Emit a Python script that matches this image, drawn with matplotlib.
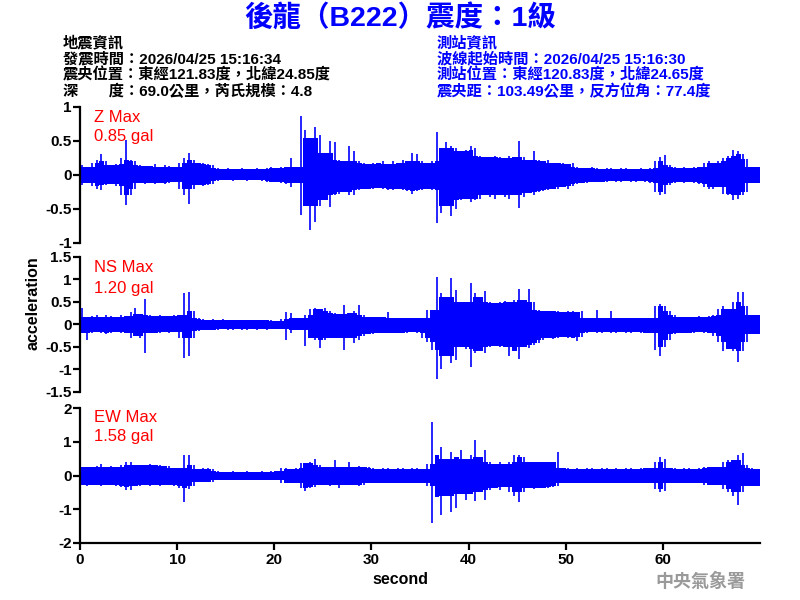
import numpy as np
import matplotlib
matplotlib.use('Agg')
from matplotlib import pyplot as plt

plt.rcParams['font.family'] = ['Liberation Sans', 'Noto Sans CJK TC', 'DejaVu Sans']

# station / event text
title = '後龍（B222）震度：1級'
quake_info = ['地震資訊',
              '發震時間：2026/04/25 15:16:34',
              '震央位置：東經121.83度，北緯24.85度',
              '深\u3000\u3000度：69.0公里，芮氏規模：4.8']
station_info = ['測站資訊',
                '波線起始時間：2026/04/25 15:16:30',
                '測站位置：東經120.83度，北緯24.65度',
                '震央距：103.49公里，反方位角：77.4度']

channels = ['Z', 'NS', 'EW']
max_labels = ['0.85 gal', '1.20 gal', '1.58 gal']
y_limits = [(-1, 1), (-1.5, 1.5), (-2, 2)]
y_ticks = [[-1, -0.5, 0, 0.5, 1],
           [-1.5, -1, -0.5, 0, 0.5, 1, 1.5],
           [-2, -1, 0, 1, 2]]
y_ticklabels = [['-1', '-0.5', '0', '0.5', '1'],
                ['-1.5', '-1', '-0.5', '0', '0.5', '1', '1.5'],
                ['-2', '-1', '0', '1', '2']]
x_ticks = [0, 10, 20, 30, 40, 50, 60]

# trace extremes per 0.5 s window (gal); one line = 5 s
z_hi = [0.15, 0.12, 0.18, 0.22, 0.30, 0.20, 0.15, 0.16, 0.25, 0.51,
        0.22, 0.20, 0.14, 0.13, 0.13, 0.16, 0.12, 0.14, 0.13, 0.12,
        0.18, 0.25, 0.32, 0.22, 0.17, 0.18, 0.16, 0.15, 0.10, 0.09,
        0.10, 0.08, 0.09, 0.10, 0.08, 0.09, 0.10, 0.08, 0.10, 0.12,
        0.10, 0.11, 0.12, 0.25, 0.12, 0.86, 0.66, 0.54, 0.71, 0.59,
        0.32, 0.50, 0.48, 0.22, 0.20, 0.43, 0.35, 0.20, 0.17, 0.16,
        0.18, 0.17, 0.20, 0.16, 0.20, 0.18, 0.22, 0.20, 0.32, 0.30,
        0.20, 0.18, 0.20, 0.63, 0.39, 0.48, 0.42, 0.40, 0.35, 0.36,
        0.42, 0.40, 0.28, 0.27, 0.26, 0.28, 0.27, 0.25, 0.28, 0.27,
        0.50, 0.27, 0.22, 0.35, 0.22, 0.20, 0.22, 0.17, 0.18, 0.17,
        0.16, 0.18, 0.12, 0.10, 0.10, 0.12, 0.10, 0.09, 0.10, 0.10,
        0.09, 0.10, 0.10, 0.08, 0.09, 0.10, 0.08, 0.10, 0.20, 0.27,
        0.29, 0.15, 0.12, 0.10, 0.12, 0.10, 0.11, 0.12, 0.18, 0.20,
        0.18, 0.20, 0.25, 0.28, 0.37, 0.35, 0.30, 0.24, 0.12, 0.12]
z_lo = [-0.15, -0.12, -0.17, -0.20, -0.22, -0.15, -0.14, -0.16, -0.30, -0.44,
        -0.30, -0.20, -0.12, -0.13, -0.12, -0.14, -0.12, -0.13, -0.12, -0.11,
        -0.20, -0.30, -0.42, -0.20, -0.15, -0.16, -0.15, -0.13, -0.09, -0.08,
        -0.08, -0.09, -0.08, -0.08, -0.09, -0.08, -0.08, -0.09, -0.10, -0.10,
        -0.10, -0.12, -0.13, -0.18, -0.12, -0.59, -0.45, -0.81, -0.69, -0.45,
        -0.37, -0.47, -0.30, -0.28, -0.25, -0.30, -0.30, -0.22, -0.20, -0.20,
        -0.20, -0.19, -0.20, -0.22, -0.22, -0.20, -0.22, -0.24, -0.28, -0.24,
        -0.22, -0.20, -0.22, -0.71, -0.56, -0.45, -0.61, -0.50, -0.37, -0.35,
        -0.40, -0.37, -0.35, -0.30, -0.32, -0.35, -0.30, -0.33, -0.35, -0.30,
        -0.49, -0.32, -0.27, -0.30, -0.25, -0.24, -0.22, -0.20, -0.20, -0.18,
        -0.20, -0.17, -0.14, -0.12, -0.12, -0.10, -0.10, -0.11, -0.10, -0.09,
        -0.10, -0.10, -0.09, -0.10, -0.10, -0.09, -0.10, -0.12, -0.25, -0.30,
        -0.28, -0.15, -0.12, -0.11, -0.12, -0.10, -0.12, -0.13, -0.18, -0.20,
        -0.20, -0.18, -0.28, -0.30, -0.37, -0.35, -0.30, -0.25, -0.12, -0.12]

ns_hi = [0.36, 0.17, 0.18, 0.20, 0.17, 0.20, 0.18, 0.17, 0.20, 0.18,
         0.28, 0.36, 0.22, 0.56, 0.20, 0.18, 0.20, 0.19, 0.18, 0.20,
         0.20, 0.69, 0.72, 0.30, 0.15, 0.12, 0.10, 0.12, 0.10, 0.11,
         0.10, 0.09, 0.10, 0.10, 0.09, 0.10, 0.10, 0.09, 0.10, 0.10,
         0.08, 0.12, 0.28, 0.25, 0.14, 0.15, 0.20, 0.34, 0.36, 0.34,
         0.36, 0.30, 0.25, 0.22, 0.43, 0.25, 0.29, 0.42, 0.20, 0.17,
         0.17, 0.16, 0.17, 0.28, 0.14, 0.15, 0.14, 0.15, 0.14, 0.13,
         0.15, 0.32, 0.32, 1.05, 0.69, 0.60, 1.03, 0.77, 0.50, 0.50,
         0.91, 0.69, 0.60, 0.73, 0.50, 0.48, 0.50, 0.52, 0.50, 0.55,
         0.78, 0.55, 0.78, 0.50, 0.32, 0.30, 0.30, 0.29, 0.29, 0.28,
         0.29, 0.30, 0.28, 0.29, 0.15, 0.14, 0.32, 0.14, 0.15, 0.30,
         0.14, 0.15, 0.14, 0.13, 0.14, 0.15, 0.14, 0.15, 0.40, 0.45,
         0.40, 0.30, 0.20, 0.17, 0.17, 0.16, 0.17, 0.18, 0.17, 0.18,
         0.20, 0.35, 0.40, 0.35, 0.50, 0.71, 0.71, 0.40, 0.20, 0.20]
ns_lo = [-0.20, -0.34, -0.20, -0.18, -0.20, -0.22, -0.20, -0.18, -0.20, -0.20,
         -0.30, -0.25, -0.30, -0.63, -0.20, -0.20, -0.20, -0.18, -0.20, -0.18,
         -0.30, -0.75, -0.70, -0.30, -0.15, -0.13, -0.12, -0.12, -0.12, -0.11,
         -0.12, -0.12, -0.11, -0.12, -0.12, -0.11, -0.12, -0.11, -0.12, -0.10,
         -0.10, -0.10, -0.34, -0.20, -0.13, -0.13, -0.49, -0.30, -0.35, -0.53,
         -0.35, -0.30, -0.30, -0.30, -0.57, -0.30, -0.42, -0.35, -0.25, -0.22,
         -0.22, -0.20, -0.20, -0.20, -0.20, -0.20, -0.20, -0.20, -0.18, -0.20,
         -0.30, -0.40, -0.57, -1.22, -1.00, -0.70, -0.86, -0.80, -0.50, -0.55,
         -0.95, -0.64, -0.60, -0.64, -0.50, -0.48, -0.50, -0.50, -0.71, -0.60,
         -0.77, -0.50, -0.53, -0.45, -0.42, -0.35, -0.30, -0.32, -0.30, -0.28,
         -0.30, -0.30, -0.38, -0.28, -0.20, -0.18, -0.20, -0.20, -0.18, -0.20,
         -0.20, -0.18, -0.20, -0.20, -0.18, -0.20, -0.20, -0.20, -0.57, -0.71,
         -0.50, -0.35, -0.22, -0.20, -0.20, -0.20, -0.20, -0.18, -0.20, -0.20,
         -0.25, -0.40, -0.60, -0.55, -0.60, -0.83, -0.60, -0.40, -0.22, -0.22]

ew_hi = [0.26, 0.25, 0.26, 0.28, 0.33, 0.26, 0.28, 0.26, 0.30, 0.41,
         0.41, 0.30, 0.30, 0.31, 0.33, 0.30, 0.30, 0.28, 0.28, 0.22,
         0.22, 0.61, 0.61, 0.30, 0.20, 0.22, 0.21, 0.20, 0.12, 0.11,
         0.11, 0.12, 0.11, 0.10, 0.12, 0.11, 0.11, 0.12, 0.11, 0.12,
         0.12, 0.21, 0.21, 0.20, 0.21, 0.36, 0.36, 0.40, 0.50, 0.30,
         0.26, 0.26, 0.45, 0.26, 0.26, 0.40, 0.26, 0.28, 0.26, 0.25,
         0.21, 0.20, 0.21, 0.22, 0.20, 0.21, 0.21, 0.20, 0.21, 0.22,
         0.20, 0.35, 1.58, 0.62, 0.85, 0.48, 0.70, 0.55, 0.75, 0.50,
         0.60, 1.05, 0.55, 0.75, 0.41, 0.35, 0.40, 0.33, 0.41, 0.61,
         0.61, 0.55, 0.41, 0.40, 0.41, 0.40, 0.40, 0.41, 0.71, 0.21,
         0.21, 0.20, 0.21, 0.20, 0.21, 0.21, 0.20, 0.21, 0.21, 0.20,
         0.21, 0.20, 0.21, 0.21, 0.20, 0.21, 0.21, 0.21, 0.40, 0.56,
         0.50, 0.21, 0.21, 0.20, 0.21, 0.21, 0.20, 0.21, 0.26, 0.26,
         0.26, 0.26, 0.40, 0.45, 0.45, 0.60, 0.66, 0.30, 0.21, 0.20]
ew_lo = [-0.28, -0.30, -0.27, -0.28, -0.30, -0.27, -0.28, -0.30, -0.35, -0.43,
         -0.43, -0.30, -0.30, -0.28, -0.30, -0.29, -0.30, -0.28, -0.28, -0.30,
         -0.38, -0.78, -0.40, -0.30, -0.20, -0.18, -0.19, -0.18, -0.13, -0.13,
         -0.13, -0.12, -0.13, -0.13, -0.12, -0.13, -0.13, -0.12, -0.13, -0.13,
         -0.13, -0.23, -0.23, -0.22, -0.23, -0.38, -0.45, -0.38, -0.35, -0.28,
         -0.28, -0.30, -0.28, -0.38, -0.28, -0.27, -0.28, -0.30, -0.27, -0.22,
         -0.21, -0.22, -0.23, -0.21, -0.22, -0.23, -0.21, -0.22, -0.23, -0.21,
         -0.22, -0.30, -1.40, -0.65, -1.17, -0.60, -1.07, -0.95, -0.55, -0.73,
         -0.55, -0.75, -0.50, -0.73, -0.43, -0.38, -0.43, -0.35, -0.50, -0.60,
         -0.78, -0.50, -0.38, -0.40, -0.38, -0.38, -0.38, -0.35, -0.30, -0.23,
         -0.23, -0.22, -0.23, -0.23, -0.22, -0.23, -0.23, -0.22, -0.23, -0.23,
         -0.22, -0.23, -0.23, -0.22, -0.23, -0.23, -0.22, -0.23, -0.40, -0.48,
         -0.45, -0.23, -0.22, -0.22, -0.21, -0.22, -0.22, -0.22, -0.28, -0.28,
         -0.28, -0.28, -0.40, -0.50, -0.60, -0.87, -0.50, -0.30, -0.30, -0.30]

traces = [(z_hi, z_lo), (ns_hi, ns_lo), (ew_hi, ew_lo)]
window = 0.5
blue = '#0000ff'

fig = plt.figure(figsize=(8, 6), dpi=100)

# axes rectangles in figure fractions (left, bottom, width, height)
ax_boxes = [[0.1, 0.595, 0.85, 0.227],
            [0.1, 0.347, 0.85, 0.225],
            [0.1, 0.095, 0.85, 0.225]]
label_y = [(118, 137), (268, 288), (417, 437)]

for i in range(3):
    ax = fig.add_axes(ax_boxes[i])
    hi = np.array(traces[i][0])
    lo = np.array(traces[i][1])
    t = np.arange(len(hi)) * window

    # solid core: the quieter of each window and its neighbours
    hp = np.pad(hi, 1, mode='edge')
    lp = np.pad(lo, 1, mode='edge')
    core_hi = np.minimum(np.minimum(hp[:-2], hp[1:-1]), hp[2:])
    core_lo = np.maximum(np.maximum(lp[:-2], lp[1:-1]), lp[2:])
    edges = np.append(t, t[-1] + window)
    ax.fill_between(edges, np.append(core_lo, core_lo[-1]),
                    np.append(core_hi, core_hi[-1]), step='post',
                    color=blue, linewidth=0)
    # the window extremes as thin spikes
    ax.vlines(t + window * 0.4, lo, hi, color=blue, linewidth=1.2)

    ax.set_xlim(0, 70)
    ax.set_ylim(*y_limits[i])
    ax.set_yticks(y_ticks[i])
    ax.set_yticklabels(y_ticklabels[i], fontsize=11, fontweight='bold')
    for s in ['top', 'right']:
        ax.spines[s].set_visible(False)
    ax.spines['left'].set_linewidth(1.6)
    ax.tick_params(axis='y', direction='out', length=5, width=1.6, pad=1)
    if i < 2:
        ax.spines['bottom'].set_visible(False)
        ax.set_xticks([])
    else:
        ax.spines['bottom'].set_linewidth(1.6)
        ax.set_xticks(x_ticks)
        ax.set_xticklabels([str(v) for v in x_ticks], fontsize=11, fontweight='bold')
        ax.tick_params(axis='x', direction='out', length=5, width=1.6, pad=2)

    fig.text(94 / 800, 1 - label_y[i][0] / 600, channels[i] + ' Max',
             color='red', fontsize=12, va='center')
    fig.text(94 / 800, 1 - label_y[i][1] / 600, max_labels[i],
             color='red', fontsize=12, va='center')

fig.text(33 / 800, 1 - 303 / 600, 'acceleration', rotation=90, fontsize=11.5,
         fontweight='bold', ha='center', va='center')
fig.text(400 / 800, 1 - 580 / 600, 'second', fontsize=11.5,
         fontweight='bold', ha='center', va='center')

fig.text(0.5, 1 - 18 / 600, title, color=blue, fontsize=20.5,
         fontweight='bold', ha='center', va='center')

for k in range(4):
    fig.text(63 / 800, 1 - (43 + 16 * k) / 600, quake_info[k], color='black',
             fontsize=11, fontweight='bold', va='center')
    fig.text(437 / 800, 1 - (43 + 16 * k) / 600, station_info[k], color=blue,
             fontsize=11, fontweight='bold', va='center')

fig.text(700 / 800, 1 - 581 / 600, '中央氣象署', color='#9a9a9a', fontsize=13,
         fontweight='bold', ha='center', va='center', family=['Noto Sans CJK TC'])

fig.savefig('out.png', dpi=100)
